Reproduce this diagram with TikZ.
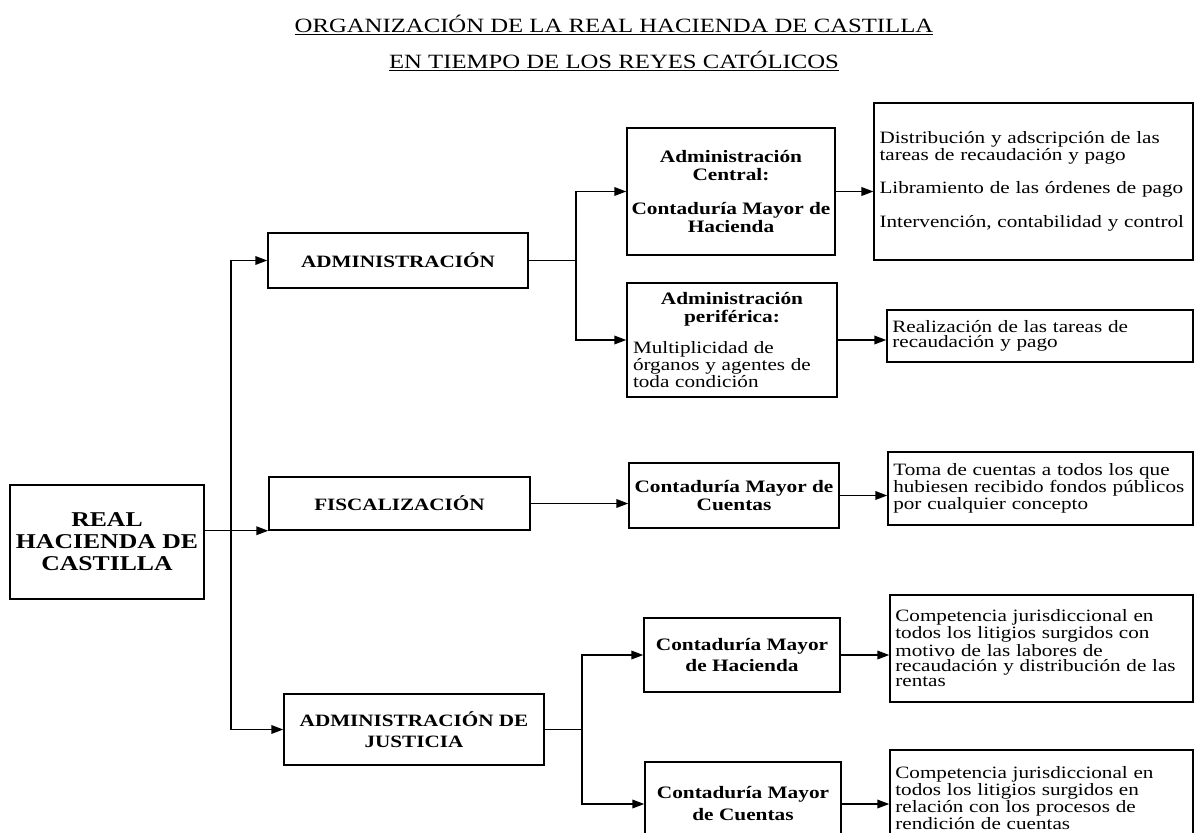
\documentclass[tikz,border=0pt]{standalone}
\usepackage{fontspec}
\setmainfont{Liberation Serif}[FakeStretch=1.22]
\usetikzlibrary{arrows.meta}
\setlength{\lineskiplimit}{-20pt}

\begin{document}
\begin{tikzpicture}[x=0.75pt, y=-0.75pt,
    box/.style={draw, line width=1.1pt, inner sep=0pt},
    cat/.style={box, font=\fontsize{13}{16}\selectfont\bfseries, align=center},
    sub/.style={box, font=\fontsize{13.1}{13.5}\selectfont\bfseries, align=center},
    txt/.style={box, font=\fontsize{13}{11.6}\selectfont, align=left, inner xsep=4pt},
    link/.style={line width=1.1pt},
    arr/.style={link, -{Triangle[length=9pt,width=6.5pt]}},
    fork/.style={link, {Triangle[length=9pt,width=6.5pt]}-{Triangle[length=9pt,width=6.5pt]}}]
	\clip (0,0) rectangle (1198,832);
	\fill[white] (0,0) rectangle (1198,832);
	
	\node (title1) [anchor=base, font=\fontsize{15.2}{18}\selectfont] at (614,32) {\underline{ORGANIZACIÓN DE LA REAL HACIENDA DE CASTILLA}};
	\node (title2) [anchor=base, font=\fontsize{15.2}{18}\selectfont] at (614,68) {\underline{EN TIEMPO DE LOS REYES CATÓLICOS}};
	
	\node (root) [box, font=\fontsize{15.8}{16.5}\selectfont\bfseries, align=center, minimum width=145.5pt, minimum height=85.5pt] at (107,542) {REAL\\HACIENDA DE\\CASTILLA};
	
	\node (adm) [cat, minimum width=195pt, minimum height=41.25pt] at (398,260.5) {ADMINISTRACIÓN};
	\node (fisc) [cat, minimum width=195.75pt, minimum height=39.75pt] at (399.5,503.5) {FISCALIZACIÓN};
	\node (jus) [cat, minimum width=195pt, minimum height=53.25pt] at (414,729.5) {ADMINISTRACIÓN DE\\JUSTICIA};
	
	\node (cen) [sub, minimum width=156pt, minimum height=95.25pt] at (731,191.5) {Administración\\Central:\\[12pt]Contaduría Mayor de\\Hacienda};
	\node (per) [txt, text width=148.5pt, inner xsep=4.5pt, minimum height=85.5pt] at (732,340) {{\centering\bfseries\fontsize{13.1}{13.5}\selectfont Administración\\periférica:\par}\vspace{10pt}Multiplicidad de\\órganos y agentes de\\toda condición};
	\node (cmc) [sub, minimum width=157.5pt, minimum height=48.75pt] at (734,495.5) {Contaduría Mayor de\\Cuentas};
	\node (cmh) [sub, minimum width=147pt, minimum height=55.5pt] at (742,655) {Contaduría Mayor\\[2.5pt]de Hacienda};
	\node (cmc2) [sub, minimum width=147pt, minimum height=63pt] at (743,804) {Contaduría Mayor\\[3pt]de Cuentas};
	
	\node (r1) [txt, text width=231pt, minimum height=117.75pt] at (1033.5,181.5) {Distribución y adscripción de las\\tareas de recaudación y pago\\[12pt]Libramiento de las órdenes de pago\\[12.5pt]Intervención, contabilidad y control};
	\node (r2) [txt, text width=221.5pt, minimum height=39pt] at (1040,336) {Realización de las tareas de\\recaudación y pago};
	\node (r3) [txt, text width=220.75pt, minimum height=54.75pt] at (1040.5,488.5) {Toma de cuentas a todos los que\\hubiesen recibido fondos públicos\\por cualquier concepto};
	\node (r4) [txt, text width=219.25pt, minimum height=80.25pt] at (1041.5,648.5) {Competencia jurisdiccional en\\todos los litigios surgidos con\\motivo de las labores de\\recaudación y distribución de las\\rentas};
	\node (r5) [txt, text width=219.25pt, minimum height=72pt] at (1041.5,798) {Competencia jurisdiccional en\\todos los litigios surgidos en\\relación con los procesos de\\rendición de cuentas};
	
	\coordinate (trunk) at (231,500);
	\coordinate (admsplit) at (576,260.5);
	\coordinate (jussplit) at (582,729.5);
	
	\draw[arr] (root.east|-fisc.south west) -- (fisc.south west);
	\draw[fork] (adm.west) -| (trunk) |- (jus.west);
	\draw[link] (adm.east) -- (admsplit);
	\draw[fork] (cen.west) -| (admsplit) |- (per.west);
	\draw[arr] (fisc.east) -- (cmc.west|-fisc.east);
	\draw[link] (jus.east) -- (jussplit);
	\draw[fork] (cmh.west) -| (jussplit) |- (cmc2.west);
	
	\draw[arr] (cen.east) -- (r1.west|-cen.east);
	\draw[arr] (per.east) -- (r2.west|-per.east);
	\draw[arr] (cmc.east) -- (r3.west|-cmc.east);
	\draw[arr] (cmh.east) -- (r4.west|-cmh.east);
	\draw[arr] (cmc2.east) -- (r5.west|-cmc2.east);
\end{tikzpicture}
\end{document}
